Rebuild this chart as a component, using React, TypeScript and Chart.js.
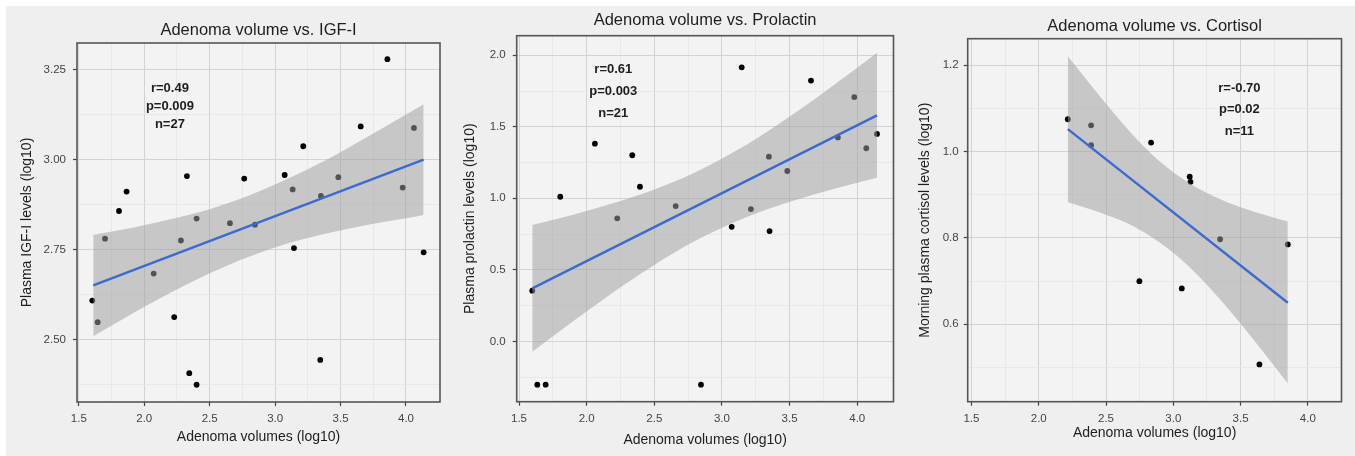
import React, { useEffect, useRef } from "react";
import { Chart, registerables } from "chart.js";

Chart.register(...registerables);

const FONT = '"Liberation Sans", Arial, Helvetica, sans-serif';

// ---------- shared axis ticks ----------
const X_TICKS = [1.5, 2.0, 2.5, 3.0, 3.5, 4.0];
const X_TICK_LABELS = ["1.5", "2.0", "2.5", "3.0", "3.5", "4.0"];
const X_MINOR = [1.75, 2.25, 2.75, 3.25, 3.75];
const X_TITLE = "Adenoma volumes (log10)";

// ---------- Panel 1: IGF-I ----------
const IGF_X = [1.603, 1.644, 1.7, 1.807, 1.865, 2.072, 2.229, 2.28, 2.326, 2.344, 2.4, 2.4, 2.655, 2.764, 2.846, 3.073, 3.134, 3.144, 3.215, 3.345, 3.35, 3.483, 3.654, 3.858, 3.975, 4.061, 4.135];
const IGF_Y = [2.608, 2.548, 2.78, 2.857, 2.911, 2.683, 2.562, 2.775, 2.954, 2.406, 2.836, 2.374, 2.823, 2.947, 2.819, 2.957, 2.917, 2.754, 3.037, 2.443, 2.899, 2.951, 3.092, 3.279, 2.922, 3.088, 2.742];
const IGF_FIT_X = [1.61, 4.135];
const IGF_FIT_Y = [2.65, 3.0];
const IGF_BAND_X = [1.61, 1.9, 2.2, 2.5, 2.8, 3.1, 3.4, 3.7, 4.0, 4.135];
const IGF_BAND_UPPER = [2.791, 2.81, 2.834, 2.862, 2.9, 2.947, 3.001, 3.062, 3.125, 3.154];
const IGF_BAND_LOWER = [2.509, 2.57, 2.63, 2.684, 2.73, 2.767, 2.795, 2.818, 2.837, 2.846];
const IGF_Y_TICKS = [2.5, 2.75, 3.0, 3.25];
const IGF_Y_LABELS = ["2.50", "2.75", "3.00", "3.25"];
const IGF_Y_MINOR = [2.375, 2.625, 2.875, 3.125];
const IGF_STATS = ["r=0.49", "p=0.009", "n=27"];

// ---------- Panel 2: Prolactin ----------
const PRL_X = [1.598, 1.635, 1.697, 1.805, 2.061, 2.226, 2.337, 2.394, 2.658, 2.845, 3.072, 3.146, 3.214, 3.347, 3.352, 3.483, 3.658, 3.857, 3.978, 4.067, 4.146];
const PRL_Y = [0.354, -0.303, -0.303, 1.011, 1.382, 0.86, 1.301, 1.081, 0.946, -0.303, 0.801, 1.916, 0.925, 1.291, 0.771, 1.191, 1.823, 1.426, 1.708, 1.35, 1.45];
const PRL_FIT_X = [1.598, 4.146];
const PRL_FIT_Y = [0.37, 1.58];
const PRL_BAND_X = [1.598, 1.9, 2.2, 2.5, 2.8, 3.1, 3.4, 3.7, 4.0, 4.146];
const PRL_BAND_UPPER = [0.813, 0.885, 0.967, 1.062, 1.181, 1.33, 1.508, 1.704, 1.913, 2.017];
const PRL_BAND_LOWER = [-0.073, 0.141, 0.345, 0.534, 0.701, 0.836, 0.944, 1.032, 1.109, 1.143];
const PRL_Y_TICKS = [0.0, 0.5, 1.0, 1.5, 2.0];
const PRL_Y_LABELS = ["0.0", "0.5", "1.0", "1.5", "2.0"];
const PRL_Y_MINOR = [-0.25, 0.25, 0.75, 1.25, 1.75];
const PRL_STATS = ["r=0.61", "p=0.003", "n=21"];

// ---------- Panel 3: Cortisol ----------
const CORT_X = [2.216, 2.389, 2.389, 2.748, 2.835, 3.063, 3.122, 3.128, 3.348, 3.64, 3.851];
const CORT_Y = [1.075, 1.061, 1.015, 0.7, 1.021, 0.683, 0.942, 0.93, 0.797, 0.507, 0.785];
const CORT_FIT_X = [2.216, 3.851];
const CORT_FIT_Y = [1.052, 0.65];
const CORT_BAND_X = [2.216, 2.4, 2.6, 2.8, 3.0, 3.2, 3.4, 3.6, 3.851];
const CORT_BAND_UPPER = [1.221, 1.149, 1.074, 1.006, 0.952, 0.912, 0.883, 0.861, 0.838];
const CORT_BAND_LOWER = [0.883, 0.865, 0.842, 0.81, 0.766, 0.708, 0.639, 0.563, 0.463];
const CORT_Y_TICKS = [0.6, 0.8, 1.0, 1.2];
const CORT_Y_LABELS = ["0.6", "0.8", "1.0", "1.2"];
const CORT_Y_MINOR = [0.5, 0.7, 0.9, 1.1];
const CORT_STATS = ["r=-0.70", "p=0.02", "n=11"];

// ---------- panel layout ----------
const PANELS = [
  {
    title: "Adenoma volume vs. IGF-I",
    yTitle: "Plasma IGF-I levels (log10)",
    xs: IGF_X, ys: IGF_Y, fitX: IGF_FIT_X, fitY: IGF_FIT_Y,
    bandX: IGF_BAND_X, bandU: IGF_BAND_UPPER, bandL: IGF_BAND_LOWER,
    yTicks: IGF_Y_TICKS, yLabels: IGF_Y_LABELS, yMinor: IGF_Y_MINOR, stats: IGF_STATS,
    statsX: 2.196, statsY: [3.199, 3.149, 3.099],
    xMin: 1.486, xMax: 4.26, yMin: 2.326, yMax: 3.324,
    left: 0, width: 450, yScaleW: 77, padRight: 10, xScaleH: 54,
    titlePadTop: 20.1, titlePadBottom: 3.1, xTitlePad: 10.3, yTitlePad: 19.1, yTickPad: 7, xTickPad: 5.8,
  },
  {
    title: "Adenoma volume vs. Prolactin",
    yTitle: "Plasma prolactin levels (log10)",
    xs: PRL_X, ys: PRL_Y, fitX: PRL_FIT_X, fitY: PRL_FIT_Y,
    bandX: PRL_BAND_X, bandU: PRL_BAND_UPPER, bandL: PRL_BAND_LOWER,
    yTicks: PRL_Y_TICKS, yLabels: PRL_Y_LABELS, yMinor: PRL_Y_MINOR, stats: PRL_STATS,
    statsX: 2.197, statsY: [1.899, 1.748, 1.597],
    xMin: 1.483, xMax: 4.268, yMin: -0.422, yMax: 2.137,
    left: 450, width: 450, yScaleW: 66.7, padRight: 6.5, xScaleH: 54.3,
    titlePadTop: 10.8, titlePadBottom: 5.1, xTitlePad: 7.6, yTitlePad: 11.3, yTickPad: 7, xTickPad: 5.8,
  },
  {
    title: "Adenoma volume vs. Cortisol",
    yTitle: "Morning plasma cortisol levels (log10)",
    xs: CORT_X, ys: CORT_Y, fitX: CORT_FIT_X, fitY: CORT_FIT_Y,
    bandX: CORT_BAND_X, bandU: CORT_BAND_UPPER, bandL: CORT_BAND_LOWER,
    yTicks: CORT_Y_TICKS, yLabels: CORT_Y_LABELS, yMinor: CORT_Y_MINOR, stats: CORT_STATS,
    statsX: 3.491, statsY: [1.147, 1.098, 1.046],
    xMin: 1.472, xMax: 4.25, yMin: 0.4207, yMax: 1.2616,
    left: 900, width: 455, yScaleW: 67.7, padRight: 13.5, xScaleH: 54.3,
    titlePadTop: 16.3, titlePadBottom: 2.6, xTitlePad: 14.3, yTitlePad: 16.6, yTickPad: 5, xTickPad: 5.8,
  },
];

const PLOT_BG = "#f3f3f3";
const GRID_MAJOR = "#d3d3d3";
const GRID_MINOR = "#e4e4e4";
const TEXT = "#1e1e1e";
const TICK_TEXT = "#444444";

const near = (arr: number[], v: number) => arr.findIndex((t) => Math.abs(t - v) < 1e-6);

function buildConfig(p: any) {
  const xAll = [...X_TICKS, ...X_MINOR].sort((a, b) => a - b);
  const yAll = [...p.yTicks, ...p.yMinor].sort((a: number, b: number) => a - b);

  const gridOpts = (major: number[]) => ({
    color: (ctx: any) => (ctx.tick && near(major, ctx.tick.value) >= 0 ? GRID_MAJOR : GRID_MINOR),
    lineWidth: (ctx: any) => (ctx.tick && near(major, ctx.tick.value) >= 0 ? 1 : 0.8),
    drawTicks: true,
    tickLength: 4,
    tickWidth: 1.2,
    tickColor: (ctx: any) => (ctx.tick && near(major, ctx.tick.value) >= 0 ? "#444" : "rgba(0,0,0,0)"),
  });

  const framePlugin = {
    id: "frame" + p.left,
    beforeDraw(chart: any) {
      const { ctx, chartArea: a } = chart;
      ctx.save();
      ctx.fillStyle = PLOT_BG;
      ctx.fillRect(a.left, a.top, a.right - a.left, a.bottom - a.top);
      ctx.restore();
    },
    afterDatasetsDraw(chart: any) {
      const { ctx, chartArea: a, scales } = chart;
      ctx.save();
      ctx.strokeStyle = "#555";
      ctx.lineWidth = 1.6;
      ctx.strokeRect(a.left, a.top, a.right - a.left, a.bottom - a.top);
      ctx.fillStyle = TEXT;
      ctx.font = `bold 13px ${FONT}`;
      ctx.textAlign = "center";
      ctx.textBaseline = "middle";
      p.stats.forEach((s: string, i: number) => {
        ctx.fillText(s, scales.x.getPixelForValue(p.statsX), scales.y.getPixelForValue(p.statsY[i]));
      });
      ctx.restore();
    },
  };

  return {
    type: "scatter" as const,
    data: {
      datasets: [
        {
          type: "scatter",
          data: p.xs.map((x: number, i: number) => ({ x, y: p.ys[i] })),
          pointRadius: 2.9,
          pointBackgroundColor: "#000",
          pointBorderWidth: 0,
          order: 3,
        },
        {
          type: "line",
          data: p.bandX.map((x: number, i: number) => ({ x, y: p.bandU[i] })),
          borderWidth: 0,
          borderColor: "rgba(0,0,0,0)",
          pointRadius: 0,
          fill: "+1",
          backgroundColor: "rgba(160,160,160,0.52)",
          cubicInterpolationMode: "monotone",
          order: 2,
        },
        {
          type: "line",
          data: p.bandX.map((x: number, i: number) => ({ x, y: p.bandL[i] })),
          borderWidth: 0,
          borderColor: "rgba(0,0,0,0)",
          pointRadius: 0,
          fill: false,
          cubicInterpolationMode: "monotone",
          order: 2,
        },
        {
          type: "line",
          data: p.fitX.map((x: number, i: number) => ({ x, y: p.fitY[i] })),
          borderColor: "#3a6bd0",
          borderWidth: 2.4,
          pointRadius: 0,
          fill: false,
          order: 1,
        },
      ],
    },
    options: {
      responsive: false,
      animation: false,
      events: [],
      layout: { padding: { left: 0, right: p.padRight, top: 0, bottom: 0 } },
      plugins: {
        legend: { display: false },
        tooltip: { enabled: false },
        title: {
          display: true,
          text: p.title,
          fullSize: false,
          color: TEXT,
          font: { family: FONT, size: 16.5, weight: "normal" },
          padding: { top: p.titlePadTop, bottom: p.titlePadBottom },
        },
      },
      scales: {
        x: {
          type: "linear",
          min: p.xMin,
          max: p.xMax,
          bounds: "data",
          afterBuildTicks: (s: any) => {
            s.ticks = xAll.map((v) => ({ value: v }));
          },
          afterFit: (s: any) => {
            s.height = p.xScaleH;
          },
          grid: gridOpts(X_TICKS),
          border: { display: false },
          ticks: {
            autoSkip: false,
            maxRotation: 0,
            padding: p.xTickPad,
            color: TICK_TEXT,
            font: { family: FONT, size: 11.5 },
            callback: (v: number) => {
              const i = near(X_TICKS, v);
              return i >= 0 ? X_TICK_LABELS[i] : "";
            },
          },
          title: {
            display: true,
            text: X_TITLE,
            color: TEXT,
            font: { family: FONT, size: 14 },
            padding: { top: 0, bottom: p.xTitlePad },
          },
        },
        y: {
          type: "linear",
          min: p.yMin,
          max: p.yMax,
          bounds: "data",
          afterBuildTicks: (s: any) => {
            s.ticks = yAll.map((v: number) => ({ value: v }));
          },
          afterFit: (s: any) => {
            s.width = p.yScaleW;
          },
          grid: gridOpts(p.yTicks),
          border: { display: false },
          ticks: {
            autoSkip: false,
            padding: p.yTickPad,
            color: TICK_TEXT,
            font: { family: FONT, size: 11.5 },
            callback: (v: number) => {
              const i = near(p.yTicks, v);
              return i >= 0 ? p.yLabels[i] : "";
            },
          },
          title: {
            display: true,
            text: p.yTitle,
            color: TEXT,
            font: { family: FONT, size: 14 },
            padding: { top: p.yTitlePad, bottom: 0 },
          },
        },
      },
    },
    plugins: [framePlugin],
  };
}

export default function App() {
  const r0 = useRef<HTMLCanvasElement>(null);
  const r1 = useRef<HTMLCanvasElement>(null);
  const r2 = useRef<HTMLCanvasElement>(null);
  const refs = [r0, r1, r2];

  useEffect(() => {
    const charts = PANELS.map((p, i) => new Chart(refs[i].current as HTMLCanvasElement, buildConfig(p) as any));
    return () => charts.forEach((c) => c.destroy());
  }, []);

  return (
    <div style={{ position: "absolute", left: 0, top: 0, width: 1355, height: 456, background: "#ffffff", overflow: "hidden" }}>
      <div style={{ position: "absolute", left: 6, top: 6, right: 0, bottom: 0, background: "#efefef" }} />
      {PANELS.map((p, i) => (
        <canvas
          key={i}
          ref={refs[i]}
          width={p.width}
          height={456}
          style={{ position: "absolute", left: p.left, top: 0, width: p.width, height: 456 }}
        />
      ))}
    </div>
  );
}
